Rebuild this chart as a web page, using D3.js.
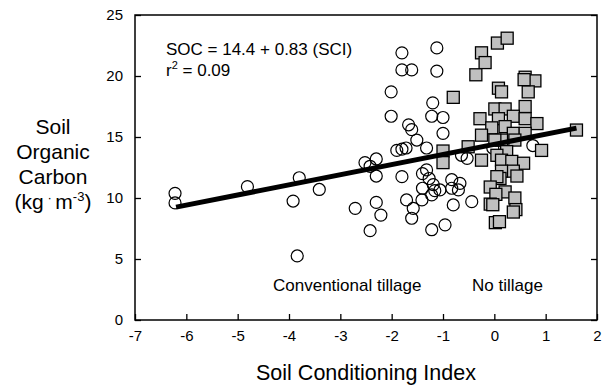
<!DOCTYPE html>
<html><head><meta charset="utf-8">
<script src="https://cdn.jsdelivr.net/npm/d3@7"></script>
<style>body{margin:0;background:#fff;}svg{display:block;font-family:"Liberation Sans",Arial,sans-serif;}</style>
</head><body>
<svg id="c" width="607" height="387"></svg>
<script>
// Conventional tillage (circles): [SCI, SOC]
const conventional = [
[-6.22,10.38],[-6.22,9.6],[-4.81,10.93],[-3.92,9.75],[-3.84,5.25],[-3.80,11.66],[-3.41,10.7],
[-2.71,9.15],[-2.52,12.9],[-2.42,12.6],[-2.30,13.2],[-2.30,11.8],[-2.30,9.64],[-2.21,8.6],[-2.42,7.32],
[-2.01,18.7],[-2.01,16.7],[-1.80,21.9],[-1.80,20.5],[-1.61,20.5],[-1.12,22.3],[-1.12,20.4],[-1.20,17.8],
[-1.22,16.7],[-1.00,16.6],[-1.67,16.0],[-1.61,15.6],[-1.51,14.75],[-1.90,13.9],[-1.80,14.0],[-1.72,14.1],
[-1.32,14.1],[-1.00,15.3],[-1.80,11.75],[-1.32,12.3],[-1.40,12.0],[-1.27,11.6],[-1.40,10.8],[-1.19,11.1],
[-1.16,10.6],[-1.22,10.25],[-1.06,10.66],[-0.83,11.5],[-0.67,11.2],[-0.70,10.66],[-0.83,10.8],[-1.71,9.84],
[-1.58,9.15],[-1.61,8.34],[-1.41,9.84],[-0.80,9.43],[-0.44,9.7],[-0.96,7.8],[-1.22,7.4],[-0.64,13.5],
[-0.53,13.25],[0.75,14.3],[-0.03,14.1]
];
// No tillage (squares): [SCI, SOC]
const noTillage = [
[-0.80,18.25],[-1.0,13.85],[-1.0,12.9],[0.06,22.7],[0.25,23.1],[-0.25,21.9],[-0.18,21.1],[-0.36,20.1],
[0.60,19.9],[0.79,19.6],[0.66,18.7],[0.58,19.7],[0.08,19.0],[0.14,18.7],[0.60,17.5],[-0.28,16.5],
[0.01,17.3],[0.21,17.3],[0.08,16.5],[0.37,16.7],[0.60,16.5],[0.83,16.1],[-0.05,15.75],[0.21,15.85],
[-0.25,15.15],[0.37,15.3],[0.60,15.3],[0.14,14.75],[0.01,14.75],[0.40,14.75],[-0.51,14.2],[0.24,13.8],
[0.05,13.5],[0.92,13.9],[-0.25,13.1],[0.14,13.1],[0.34,13.0],[0.57,12.85],[0.37,12.2],[0.14,12.2],
[0.11,11.6],[0.44,11.8],[0.05,11.75],[-0.08,10.9],[0.21,10.5],[0.03,10.3],[0.40,10.0],[-0.08,9.5],
[-0.03,9.45],[0.42,9.05],[0.37,8.85],[0.02,7.98],[0.10,8.06],[1.60,15.57]
];
const xTicks = [-7,-6,-5,-4,-3,-2,-1,0,1,2];
const yTicks = [0,5,10,15,20,25];
const intercept = 14.4, slope = 0.83;
const fitRange = [-6.2, 1.6];

const svg = d3.select("#c");
const L=135,R=597,T=15,B=320;
const x = d3.scaleLinear().domain([-7,2]).range([L,R]);
const y = d3.scaleLinear().domain([0,25]).range([B,T]);

// axes
const fs = "15px";
const xa = svg.append("g").attr("transform",`translate(0,${B})`)
  .call(d3.axisBottom(x).tickValues(xTicks).tickSizeInner(-6).tickSizeOuter(0).tickPadding(10).tickFormat(d=>String(d)));
const ya = svg.append("g").attr("transform",`translate(${L},0)`)
  .call(d3.axisLeft(y).tickValues(yTicks).tickSizeInner(-6).tickSizeOuter(0).tickPadding(12));
const yr = svg.append("g").attr("transform",`translate(${R},0)`)
  .call(d3.axisRight(y).tickValues(yTicks).tickSizeInner(-6).tickSizeOuter(0).tickFormat(""));
[xa,ya,yr].forEach(g=>{
  g.selectAll("path").remove();
  g.selectAll("line").attr("stroke","#000").attr("stroke-width",1.3);
  g.selectAll("text").attr("font-size",fs).attr("fill","#000").attr("font-family","Liberation Sans, Arial, sans-serif");
});
svg.append("rect").attr("x",L).attr("y",T).attr("width",R-L).attr("height",B-T)
  .attr("fill","none").attr("stroke","#000").attr("stroke-width",1.5);

// points
svg.append("g").selectAll("circle").data(conventional).join("circle")
  .attr("cx",d=>x(d[0])).attr("cy",d=>y(d[1])).attr("r",6)
  .attr("fill","none").attr("stroke","#000").attr("stroke-width",1.2);
const s=12;
svg.append("g").selectAll("rect").data(noTillage).join("rect")
  .attr("x",d=>x(d[0])-s/2).attr("y",d=>y(d[1])-s/2).attr("width",s).attr("height",s)
  .attr("fill","#c0c0c0").attr("stroke","#000").attr("stroke-width",1.3);

// regression line
svg.append("line")
  .attr("x1",x(fitRange[0])).attr("y1",y(intercept+slope*fitRange[0]))
  .attr("x2",x(fitRange[1])).attr("y2",y(intercept+slope*fitRange[1]))
  .attr("stroke","#000").attr("stroke-width",5).attr("stroke-linecap","butt");

// annotations
svg.append("text").attr("x",166).attr("y",55).attr("font-size","17px").text("SOC = 14.4 + 0.83 (SCI)");
const r2 = svg.append("text").attr("x",166).attr("y",76).attr("font-size","17px");
r2.append("tspan").text("r");
r2.append("tspan").attr("dy",-7).attr("font-size","11px").text("2");
r2.append("tspan").attr("dy",7).text(" = 0.09");
svg.append("text").attr("x",273).attr("y",291).attr("font-size","17px").text("Conventional tillage");
svg.append("text").attr("x",472).attr("y",291).attr("font-size","17px").text("No tillage");

// axis titles
svg.append("text").attr("x",(L+R)/2).attr("y",380).attr("text-anchor","middle").attr("font-size","21.5px").text("Soil Conditioning Index");
const yt = svg.append("g").attr("font-size","21px").attr("text-anchor","middle");
yt.append("text").attr("x",53).attr("y",134).text("Soil");
yt.append("text").attr("x",53).attr("y",159).text("Organic");
yt.append("text").attr("x",53).attr("y",184).text("Carbon");
const u = yt.append("text").attr("x",53).attr("y",209);
u.append("tspan").text("(kg");
u.append("tspan").attr("dy",-7).attr("font-size","13px").text(" · ");
u.append("tspan").attr("dy",7).text("m");
u.append("tspan").attr("dy",-8).attr("font-size","13px").text("-3");
u.append("tspan").attr("dy",8).text(")");
</script>
</body></html>
